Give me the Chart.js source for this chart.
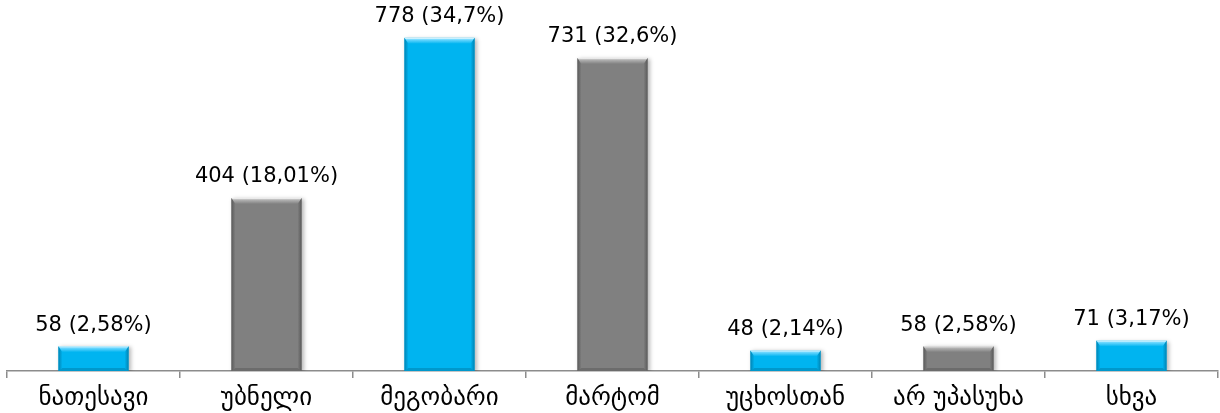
<!DOCTYPE html>
<html>
<head>
<meta charset="utf-8">
<script src="https://cdn.jsdelivr.net/npm/chart.js@4.4.1/dist/chart.umd.min.js"></script>
<style>
  html, body { margin: 0; padding: 0; background: #ffffff; }
  #wrap { width: 1220px; height: 413px; position: relative; }
</style>
</head>
<body>
<div id="wrap"><canvas id="c" width="1220" height="413"></canvas></div>
<script>
const categories = ["ნათესავი", "უბნელი", "მეგობარი", "მარტომ", "უცხოსთან", "არ უპასუხა", "სხვა"];
const counts = [58, 404, 778, 731, 48, 58, 71];
const percents = ["2,58%", "18,01%", "34,7%", "32,6%", "2,14%", "2,58%", "3,17%"];
const barColors = ["#00b4f0", "#808080", "#00b4f0", "#808080", "#00b4f0", "#808080", "#00b4f0"];

const shades = {
  "#00b4f0": { top: "#6fd8ff", side: "#0098cc", edge: "#0084b4" },
  "#808080": { top: "#b4b4b4", side: "#6c6c6c", edge: "#5a5a5a" }
};

const bevelPlugin = {
  id: "bevel",
  beforeDatasetDraw(chart) {
    const ctx = chart.ctx;
    ctx.save();
    ctx.shadowColor = "rgba(0,0,0,0.28)";
    ctx.shadowBlur = 4;
    ctx.shadowOffsetX = 2;
    ctx.shadowOffsetY = 1;
  },
  afterDatasetDraw(chart) {
    chart.ctx.restore();
  },
  afterDatasetsDraw(chart) {
    const ctx = chart.ctx;
    const meta = chart.getDatasetMeta(0);
    meta.data.forEach((bar, i) => {
      const p = bar.getProps(["x", "y", "base", "width"], true);
      const x0 = p.x - p.width / 2, x1 = p.x + p.width / 2;
      const yt = p.y, yb = p.base;
      const h = yb - yt;
      const b = Math.min(6, h / 2);
      const sb = 4;
      const s = shades[barColors[i]];
      ctx.save();
      let g = ctx.createLinearGradient(x0, 0, x0 + sb, 0);
      g.addColorStop(0, s.edge); g.addColorStop(1, barColors[i]);
      ctx.fillStyle = g;
      ctx.beginPath();
      ctx.moveTo(x0, yt); ctx.lineTo(x0 + sb, yt + b); ctx.lineTo(x0 + sb, yb); ctx.lineTo(x0, yb); ctx.closePath();
      ctx.fill();
      g = ctx.createLinearGradient(x1 - sb, 0, x1, 0);
      g.addColorStop(0, barColors[i]); g.addColorStop(1, s.edge);
      ctx.fillStyle = g;
      ctx.beginPath();
      ctx.moveTo(x1, yt); ctx.lineTo(x1 - sb, yt + b); ctx.lineTo(x1 - sb, yb); ctx.lineTo(x1, yb); ctx.closePath();
      ctx.fill();
      ctx.fillStyle = s.side;
      ctx.beginPath();
      ctx.moveTo(x0, yb); ctx.lineTo(x0 + sb, yb - Math.min(3, b)); ctx.lineTo(x1 - sb, yb - Math.min(3, b)); ctx.lineTo(x1, yb); ctx.closePath();
      ctx.fill();
      g = ctx.createLinearGradient(0, yt, 0, yt + b);
      g.addColorStop(0, "#ffffff"); g.addColorStop(0.3, s.top); g.addColorStop(1, barColors[i]);
      ctx.fillStyle = g;
      ctx.beginPath();
      ctx.moveTo(x0, yt); ctx.lineTo(x1, yt); ctx.lineTo(x1 - sb, yt + b); ctx.lineTo(x0 + sb, yt + b); ctx.closePath();
      ctx.fill();
      ctx.restore();
    });
  }
};

const labelPlugin = {
  id: "valueLabels",
  afterDatasetsDraw(chart) {
    const ctx = chart.ctx;
    const meta = chart.getDatasetMeta(0);
    ctx.save();
    ctx.font = "21px 'DejaVu Sans', sans-serif";
    ctx.fillStyle = "#000000";
    ctx.textAlign = "center";
    ctx.textBaseline = "middle";
    meta.data.forEach((bar, i) => {
      ctx.fillText(counts[i] + " (" + percents[i] + ")", bar.x, bar.y - 21);
    });
    ctx.restore();
  }
};

new Chart(document.getElementById("c"), {
  type: "bar",
  data: {
    labels: categories,
    datasets: [{
      data: counts,
      backgroundColor: barColors,
      borderWidth: 0,
      categoryPercentage: 1.0,
      barPercentage: 0.405
    }]
  },
  options: {
    responsive: false,
    animation: false,
    devicePixelRatio: 1,
    layout: { padding: { left: 7, right: 2, top: 7, bottom: 0 } },
    plugins: { legend: { display: false }, tooltip: { enabled: false } },
    scales: {
      x: {
        offset: true,
        afterFit(scale) { scale.height = 42; },
        grid: { display: true, drawOnChartArea: false, drawTicks: true, tickLength: 7, color: "#8c8c8c", lineWidth: 1.5, offset: true },
        border: { display: true, color: "#8c8c8c", width: 1.5 },
        ticks: { font: { family: "'DejaVu Sans', sans-serif", size: 25 }, color: "#000000", padding: 5, maxRotation: 0, autoSkip: false }
      },
      y: { display: false, min: 0, max: 850 }
    }
  },
  plugins: [bevelPlugin, labelPlugin]
});
</script>
</body>
</html>
